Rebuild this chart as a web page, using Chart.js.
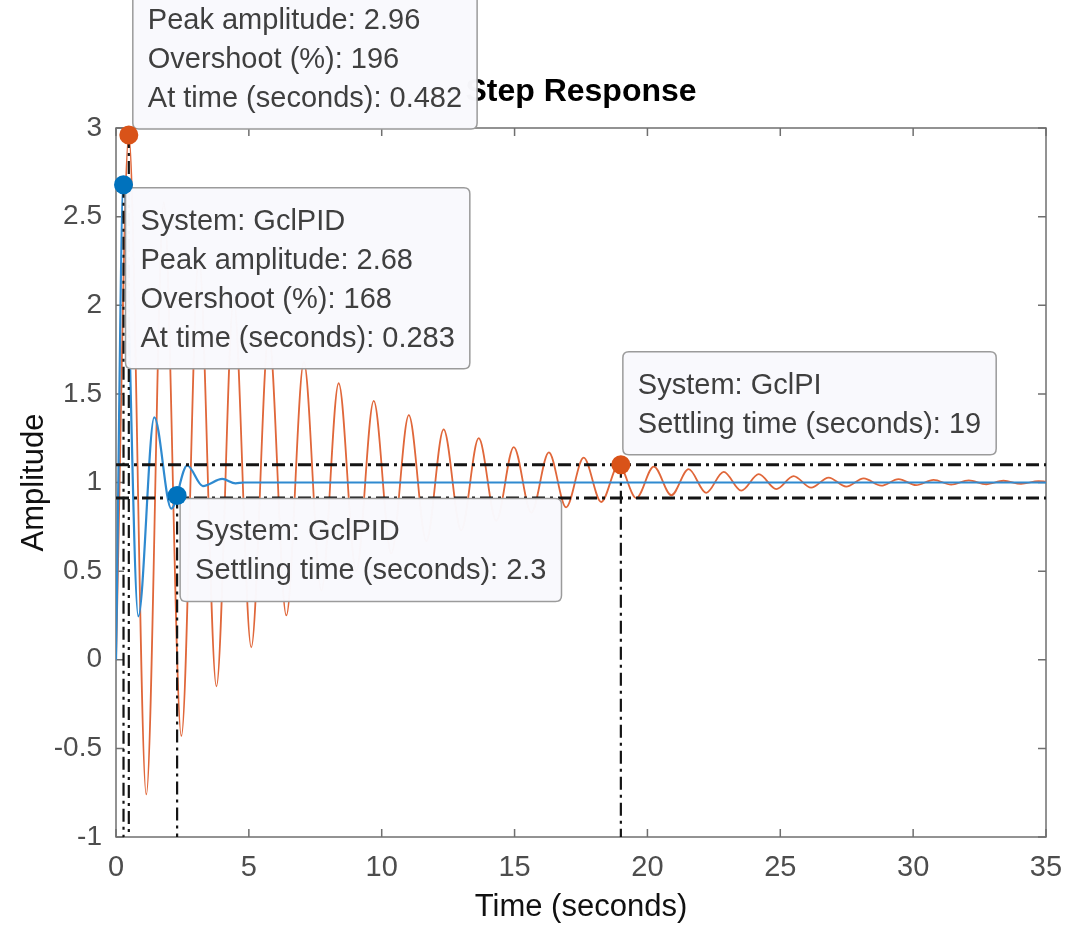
<!DOCTYPE html>
<html>
<head>
<meta charset="utf-8">
<title>Step Response</title>
<script src="https://cdn.jsdelivr.net/npm/chart.js@4.4.1/dist/chart.umd.min.js"></script>
<style>
    html, body { margin: 0; padding: 0; background: #fff; }
    #wrap { width: 1066px; height: 929px; }
</style>
</head>
<body>
<div id="wrap"><canvas id="step-chart" width="1066" height="929"></canvas></div>
<script>
// GclPI closed-loop step response (extrema of the ringing, seconds / amplitude)
const piTime = [0, 0.482, 1.14, 1.80, 2.46, 3.12, 3.78, 4.43, 5.09, 5.75, 6.41, 7.07, 7.73, 8.38, 9.04,
    9.70, 10.36, 11.02, 11.68, 12.33, 12.99, 13.65, 14.31, 14.97, 15.63, 16.29, 16.94, 17.60, 18.26,
    18.92, 19.58, 20.24, 20.90, 21.55, 22.21, 22.87, 23.53, 24.19, 24.85, 25.50, 26.16, 26.82, 27.48,
    28.14, 28.80, 29.45, 30.11, 30.77, 31.43, 32.09, 32.75, 33.40, 34.06, 34.72, 35];
const piAmp = [0, 2.96, -0.76, 2.58, -0.43, 2.27, -0.15, 2.03, 0.07, 1.84, 0.25, 1.68, 0.39, 1.56, 0.50,
    1.46, 0.60, 1.38, 0.67, 1.30, 0.73, 1.25, 0.785, 1.20, 0.83, 1.17, 0.86, 1.14, 0.89,
    1.10, 0.912, 1.09, 0.928, 1.075, 0.942, 1.06, 0.954, 1.047, 0.963, 1.036, 0.971, 1.028, 0.977,
    1.023, 0.982, 1.019, 0.985, 1.015, 0.988, 1.012, 0.99, 1.010, 0.992, 1.008, 1.004];

// GclPID closed-loop step response
const pidTime = [0, 0.283, 0.84, 1.44, 2.08, 2.68, 3.27, 4.0, 4.5, 4.8, 35];
const pidAmp = [0, 2.68, 0.245, 1.368, 0.853, 1.096, 0.98, 1.02, 0.995, 1.0, 1.0];

// Axis ticks
const xTicks = [0, 5, 10, 15, 20, 25, 30, 35];
const yTicks = [-1, -0.5, 0, 0.5, 1, 1.5, 2, 2.5, 3];

// Characteristics: PI peak, PID peak, PID settling, PI settling
const markTime = [0.482, 0.283, 2.3, 19];
const markAmp = [2.96, 2.68, 0.927, 1.10];
const markSystem = ['pi', 'pid', 'pid', 'pi'];
const settleBand = [1.1, 0.912];

const tipText = [
    ['System: GclPI', 'Peak amplitude: 2.96', 'Overshoot (%): 196', 'At time (seconds): 0.482'],
    ['System: GclPID', 'Peak amplitude: 2.68', 'Overshoot (%): 168', 'At time (seconds): 0.283'],
    ['System: GclPID', 'Settling time (seconds): 2.3'],
    ['System: GclPI', 'Settling time (seconds): 19']
];

// Datatip placement relative to its marker (px)
const tipLayout = [
    { dx: 4, dy: -6, above: true },
    { dx: 2, dy: 3, above: false },
    { dx: 3, dy: 3, above: false },
    { dx: 2, dy: -10, above: true }
];

const COLORS = { pi: '#D95319', pid: '#0072BD', piLine: '#E0673A', pidLine: '#2F8AD0' };
const FONT = "'Liberation Sans', Arial, Helvetica, sans-serif";
const AXIS_GRAY = '#6f6f6f';

function toPoints(xs, ys) {
    return xs.map((x, i) => ({ x: x, y: ys[i] }));
}

// Black dash-dot characteristic line
function charLine(points, width) {
    return {
        data: points,
        borderColor: '#141414',
        borderWidth: width,
        borderDash: [13, 5, 3, 5],
        pointRadius: 0,
        tension: 0,
        order: 1
    };
}

function buildCharLines() {
    const sets = [];
    settleBand.forEach(level => {
        sets.push(charLine([{ x: 0, y: level }, { x: 35, y: level }], 3));
    });
    markTime.forEach((t, i) => {
        sets.push(charLine([{ x: t, y: markAmp[i] }, { x: t, y: -1 }], 2.2));
    });
    return sets;
}

function roundRect(ctx, x, y, w, h, r) {
    ctx.beginPath();
    ctx.moveTo(x + r, y);
    ctx.lineTo(x + w - r, y);
    ctx.quadraticCurveTo(x + w, y, x + w, y + r);
    ctx.lineTo(x + w, y + h - r);
    ctx.quadraticCurveTo(x + w, y + h, x + w - r, y + h);
    ctx.lineTo(x + r, y + h);
    ctx.quadraticCurveTo(x, y + h, x, y + h - r);
    ctx.lineTo(x, y + r);
    ctx.quadraticCurveTo(x, y, x + r, y);
    ctx.closePath();
}

function drawTip(ctx, lines, mx, my, layout) {
    ctx.save();
    ctx.font = '29px ' + FONT;
    const textW = Math.max(...lines.map(s => ctx.measureText(s).width));
    const w = textW + 30;
    const h = 64 + 39 * (lines.length - 1);
    const left = mx + layout.dx;
    const top = layout.above ? my + layout.dy - h : my + layout.dy;

    roundRect(ctx, left, top, w, h, 6);
    ctx.fillStyle = 'rgba(249, 249, 253, 0.98)';
    ctx.fill();
    ctx.lineWidth = 1.5;
    ctx.strokeStyle = '#9b9b9b';
    ctx.stroke();

    ctx.fillStyle = '#3f3f3f';
    ctx.textBaseline = 'middle';
    ctx.textAlign = 'left';
    lines.forEach((s, i) => ctx.fillText(s, left + 15, top + 34 + 39 * i));
    ctx.restore();
}

// Title, axes box with inward ticks, and datatips
const stepPlotPlugin = {
    id: 'stepPlot',
    beforeDatasetsDraw(chart) {
        const { ctx, chartArea: a, scales } = chart;
        ctx.save();
        ctx.fillStyle = '#000';
        ctx.font = 'bold 32px ' + FONT;
        ctx.textAlign = 'center';
        ctx.textBaseline = 'middle';
        ctx.fillText('Step Response', (a.left + a.right) / 2, 92);

        ctx.strokeStyle = AXIS_GRAY;
        ctx.lineWidth = 1.5;
        ctx.strokeRect(a.left, a.top, a.right - a.left, a.bottom - a.top);
        const tl = 8;
        ctx.beginPath();
        xTicks.forEach(v => {
            const px = scales.x.getPixelForValue(v);
            ctx.moveTo(px, a.bottom); ctx.lineTo(px, a.bottom - tl);
            ctx.moveTo(px, a.top); ctx.lineTo(px, a.top + tl);
        });
        yTicks.forEach(v => {
            const py = scales.y.getPixelForValue(v);
            ctx.moveTo(a.left, py); ctx.lineTo(a.left + tl, py);
            ctx.moveTo(a.right, py); ctx.lineTo(a.right - tl, py);
        });
        ctx.stroke();
        ctx.restore();
    },
    beforeDatasetDraw(chart, args) {
        if (chart.data.datasets[args.index].id !== 'marks') return;
        const { ctx, scales } = chart;
        tipText.forEach((lines, i) => {
            const mx = scales.x.getPixelForValue(markTime[i]);
            const my = scales.y.getPixelForValue(markAmp[i]);
            drawTip(ctx, lines, mx, my, tipLayout[i]);
        });
    }
};

function renderChart() {
    const ctx = document.getElementById('step-chart').getContext('2d');

    const datasets = [
        {
            id: 'marks',
            data: toPoints(markTime, markAmp),
            showLine: false,
            pointRadius: 9.5,
            pointBorderWidth: 0,
            pointBackgroundColor: markSystem.map(s => COLORS[s]),
            clip: false,
            order: 0
        },
        ...buildCharLines(),
        {
            data: toPoints(pidTime, pidAmp),
            borderColor: COLORS.pidLine,
            borderWidth: 2.2,
            pointRadius: 0,
            cubicInterpolationMode: 'monotone',
            order: 2
        },
        {
            data: toPoints(piTime, piAmp),
            borderColor: COLORS.piLine,
            borderWidth: 1.8,
            pointRadius: 0,
            cubicInterpolationMode: 'monotone',
            order: 3
        }
    ];

    new Chart(ctx, {
        type: 'line',
        data: { datasets: datasets },
        plugins: [stepPlotPlugin],
        options: {
            responsive: false,
            animation: false,
            devicePixelRatio: 1,
            layout: { padding: { left: 0, right: 20, top: 128, bottom: 0 } },
            plugins: {
                legend: { display: false },
                tooltip: { enabled: false }
            },
            scales: {
                x: {
                    type: 'linear',
                    min: 0,
                    max: 35,
                    afterBuildTicks: axis => { axis.ticks = xTicks.map(v => ({ value: v })); },
                    afterFit: scale => {
                        scale.height = 92;
                        scale.paddingLeft = 0;
                        scale.paddingRight = 0;
                    },
                    grid: { display: false, drawTicks: false },
                    border: { display: false },
                    ticks: {
                        color: '#4d4d4d',
                        padding: 14,
                        maxRotation: 0,
                        autoSkip: false,
                        font: { family: "'Liberation Sans Narrow', " + FONT, size: 29 }
                    },
                    title: {
                        display: true,
                        text: 'Time (seconds)',
                        color: '#111',
                        padding: { top: 0, bottom: 3 },
                        font: { family: FONT, size: 31 }
                    }
                },
                y: {
                    type: 'linear',
                    min: -1,
                    max: 3,
                    afterBuildTicks: axis => { axis.ticks = yTicks.map(v => ({ value: v })); },
                    afterFit: scale => { scale.width = 116; },
                    grid: { display: false, drawTicks: false },
                    border: { display: false },
                    ticks: {
                        color: '#4d4d4d',
                        padding: 14,
                        callback: v => String(v),
                        font: { family: FONT, size: 28 }
                    },
                    title: {
                        display: true,
                        text: 'Amplitude',
                        color: '#111',
                        padding: { top: 16, bottom: 0 },
                        font: { family: FONT, size: 31 }
                    }
                }
            }
        }
    });
}

document.addEventListener('DOMContentLoaded', renderChart);
</script>
</body>
</html>
